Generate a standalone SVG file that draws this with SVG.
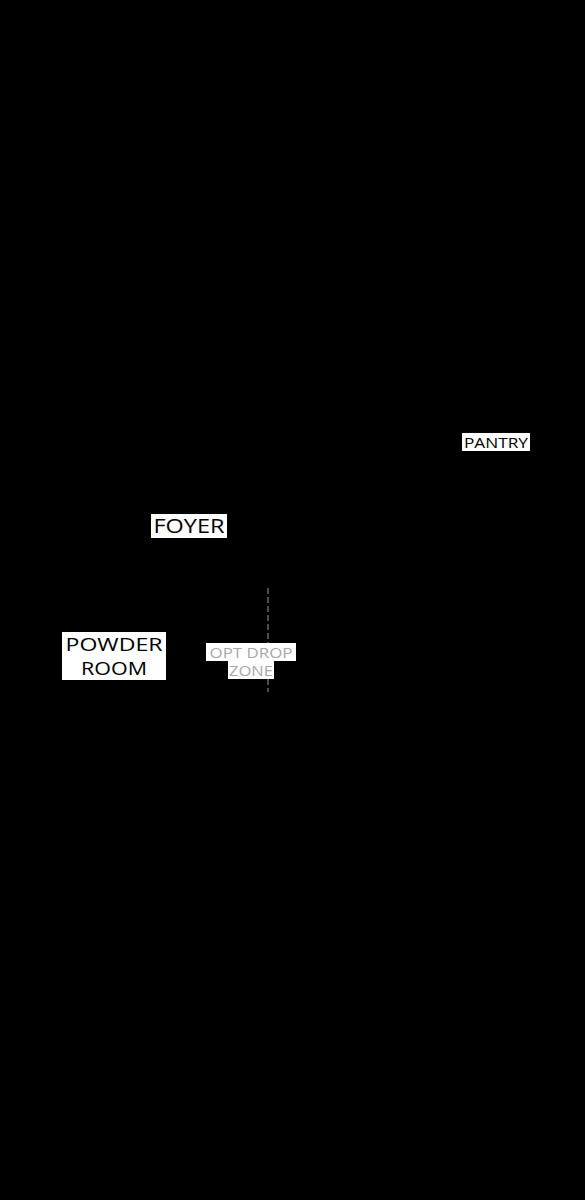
<svg xmlns="http://www.w3.org/2000/svg" width="585" height="1200" viewBox="0 0 585 1200">
<style>
.lbl{font-family:"Open Sans","Liberation Sans",sans-serif;font-weight:400;fill:#000;text-anchor:middle}
.bg{fill:#fff}
.opt{font-family:"Open Sans","Liberation Sans",sans-serif;font-weight:400;fill:#a8a8a8;text-anchor:middle}
.dash{stroke:#999;stroke-width:1;stroke-dasharray:6 3;fill:none}
</style>
<rect x="0" y="0" width="585" height="1200" fill="#000"/>
<g id="connectors">
<line class="dash" x1="268" y1="588" x2="268" y2="643"/>
<line class="dash" x1="268" y1="679" x2="268" y2="692"/>
</g>
<g id="pantry">
<rect class="bg" x="462" y="433" width="68" height="18"/>
<text class="lbl" x="496" y="447.5" font-size="14.5" textLength="64" lengthAdjust="spacingAndGlyphs">PANTRY</text>
</g>
<g id="foyer">
<rect class="bg" x="151" y="514" width="76" height="24"/>
<text class="lbl" x="189" y="533" font-size="20" textLength="71" lengthAdjust="spacingAndGlyphs">FOYER</text>
</g>
<g id="powder-room">
<rect class="bg" x="62" y="632" width="104" height="48"/>
<text class="lbl" x="114" y="651" font-size="19" textLength="97" lengthAdjust="spacingAndGlyphs">POWDER</text>
<text class="lbl" x="114" y="675" font-size="19" textLength="66" lengthAdjust="spacingAndGlyphs">ROOM</text>
</g>
<g id="opt-drop-zone">
<rect class="bg" x="206" y="643" width="90" height="18"/>
<rect class="bg" x="228" y="661" width="46" height="18"/>
<text class="opt" x="251" y="657.5" font-size="14.5" textLength="83" lengthAdjust="spacingAndGlyphs">OPT DROP</text>
<text class="opt" x="251" y="675.5" font-size="14.5" textLength="44" lengthAdjust="spacingAndGlyphs">ZONE</text>
</g>
</svg>
